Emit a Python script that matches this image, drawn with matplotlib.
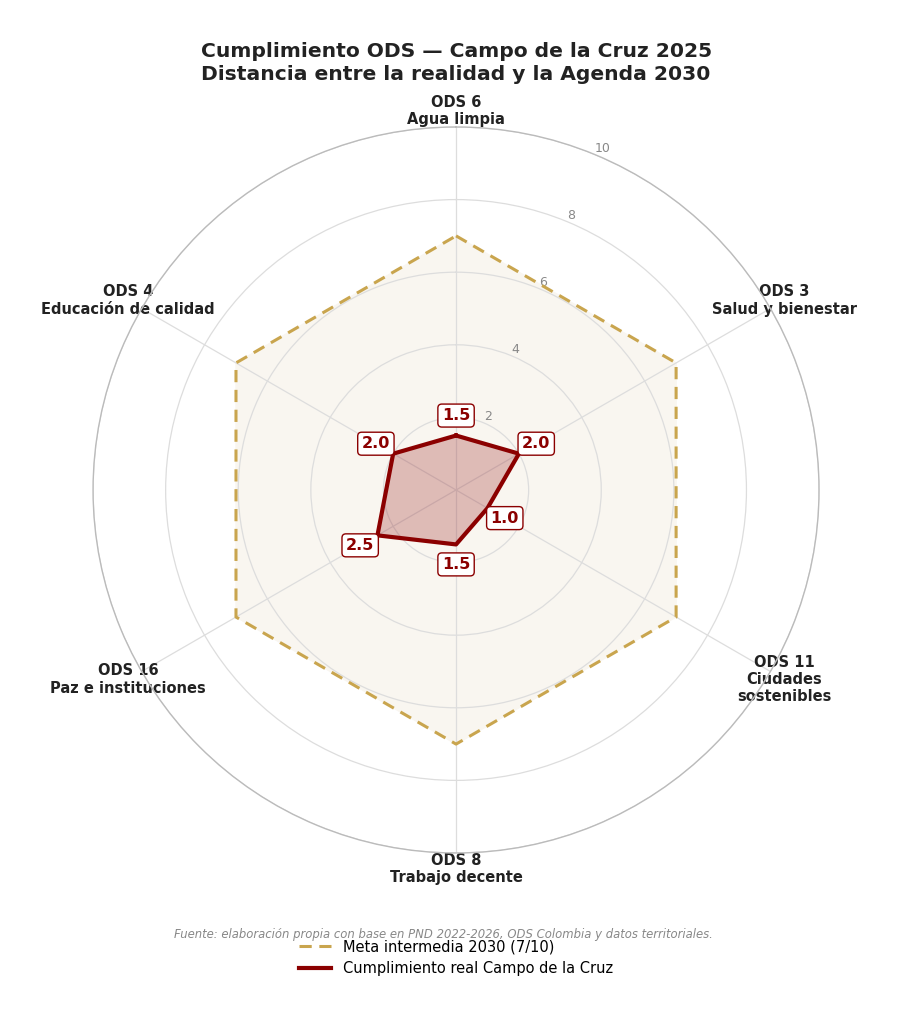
import matplotlib.pyplot as plt
import numpy as np

# datos
ods_labels = ["ODS 6\nAgua limpia", "ODS 3\nSalud y bienestar", "ODS 11\nCiudades\nsostenibles",
              "ODS 8\nTrabajo decente", "ODS 16\nPaz e instituciones", "ODS 4\nEducación de calidad"]
cumplimiento = [1.5, 2.0, 1.0, 1.5, 2.5, 2.0]
meta = [7, 7, 7, 7, 7, 7]
r_ticks = [2, 4, 6, 8, 10]

rojo = "#8b0000"
dorado = "#c9a54e"

n = len(ods_labels)
angulos = np.linspace(0, 2 * np.pi, n, endpoint=False)
ang_c = np.append(angulos, angulos[0])
cump_c = np.append(cumplimiento, cumplimiento[0])
meta_c = np.append(meta, meta[0])

fig = plt.figure(figsize=(8.98, 10.24), dpi=100)
ax = fig.add_axes([0.1036, 0.167, 0.8085, 0.709], projection="polar")
ax.set_theta_offset(np.pi / 2)
ax.set_theta_direction(-1)

ax.fill(ang_c, meta_c, color="#f9f6f0", zorder=1)
ax.plot(ang_c, meta_c, color=dorado, lw=2.2, ls=(0, (4, 2.5)), label="Meta intermedia 2030 (7/10)", zorder=2)
ax.fill(ang_c, cump_c, color=rojo, alpha=0.24, zorder=3)
ax.plot(ang_c, cump_c, color=rojo, lw=3, label="Cumplimiento real Campo de la Cruz", zorder=4)

for a, v in zip(angulos, cumplimiento):
    ax.text(a, v + 0.55, f"{v:.1f}", ha="center", va="center", fontsize=11.5, fontweight="bold",
            color=rojo, zorder=6,
            bbox=dict(boxstyle="round,pad=0.25", fc="white", ec=rojo, lw=1))

ax.set_ylim(0, 10)
ax.set_yticks(r_ticks)
ax.set_yticklabels([str(t) for t in r_ticks], color="#888888", fontsize=9)
ax.set_rlabel_position(22.5)
ax.set_xticks(angulos)
ax.set_xticklabels(ods_labels, fontsize=10.5, fontweight="bold", color="#222222")
ax.tick_params(axis="x", pad=1)
ax.grid(color="#dddddd", lw=0.9)
ax.spines["polar"].set_color("#bbbbbb")
ax.spines["polar"].set_linewidth(1)

fig.suptitle("Cumplimiento ODS — Campo de la Cruz 2025\nDistancia entre la realidad y la Agenda 2030",
             x=0.508, y=0.959, fontsize=14.6, fontweight="bold", color="#222222", linespacing=1.25)

fig.text(0.494, 0.087, "Fuente: elaboración propia con base en PND 2022-2026, ODS Colombia y datos territoriales.",
         ha="center", va="center", fontsize=8.4, style="italic", color="#888888")

fig.legend(loc="center", bbox_to_anchor=(0.508, 0.065), frameon=False, fontsize=10.5,
           handlelength=2.2, labelspacing=0.45)

plt.savefig("out.png", dpi=100)
